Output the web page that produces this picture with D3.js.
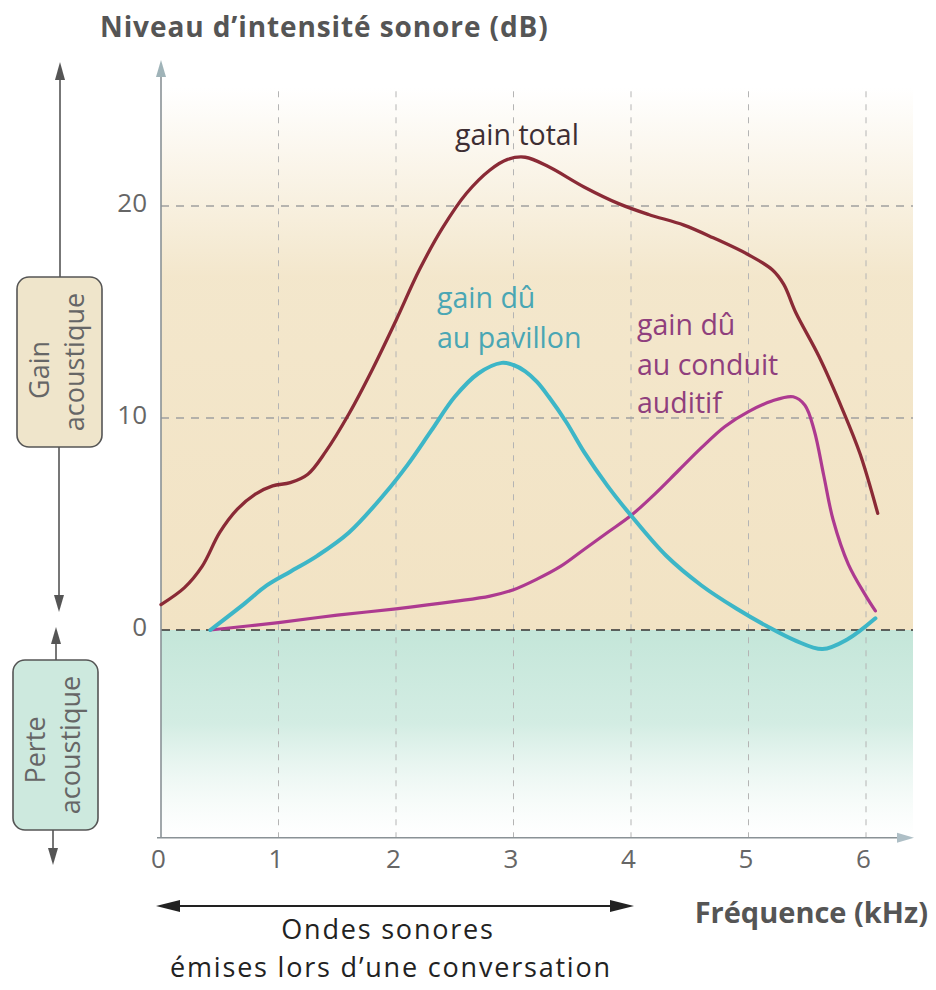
<!DOCTYPE html>
<html><head><meta charset="utf-8">
<script src="https://cdn.jsdelivr.net/npm/d3@7"></script>
<style>body{margin:0;background:#fff}svg{display:block}text{font-family:"Open Sans","Noto Sans",sans-serif}</style>
</head><body>
<script>
// ---- data (frequency in kHz, level in dB) ----
const xTicks = [0,1,2,3,4,5,6];
const yTicks = [0,10,20];
const totalF  = [0,0.2,0.35,0.5,0.65,0.8,0.95,1.1,1.25,1.4,1.6,1.8,2.0,2.2,2.4,2.6,2.8,2.95,3.1,3.3,3.6,3.9,4.15,4.45,4.7,5.0,5.2,5.3,5.4,5.6,5.8,5.95,6.1];
const totalDb = [1.2,2.0,3.0,4.6,5.7,6.4,6.8,6.95,7.35,8.4,10.2,12.3,14.6,17.0,19.0,20.6,21.7,22.2,22.3,21.85,20.9,20.1,19.6,19.1,18.5,17.7,17.0,16.3,15.0,12.9,10.4,8.3,5.5];
const pavF  = [0.42,0.7,0.9,1.1,1.33,1.6,1.9,2.1,2.3,2.5,2.7,2.9,3.0,3.1,3.2,3.3,3.45,3.6,3.8,4.0,4.3,4.6,4.9,5.15,5.4,5.63,5.84,6.08];
const pavDb = [0,1.2,2.1,2.75,3.5,4.6,6.4,7.8,9.4,11.0,12.1,12.6,12.5,12.2,11.7,11.0,9.8,8.4,6.8,5.4,3.5,2.1,1.0,0.2,-0.5,-0.9,-0.45,0.55];
const condF  = [0.42,1.0,1.5,2.0,2.5,2.8,3.0,3.2,3.4,3.6,3.8,4.0,4.2,4.4,4.6,4.8,5.0,5.2,5.38,5.48,5.56,5.64,5.72,5.85,6.0,6.08];
const condDb = [0,0.35,0.7,1.0,1.35,1.6,1.9,2.4,3.0,3.8,4.6,5.4,6.4,7.5,8.6,9.6,10.3,10.8,11.0,10.6,9.4,7.3,5.2,3.1,1.6,0.9];

const W=936,H=990;
const svg=d3.select("body").append("svg").attr("width",W).attr("height",H);
const x=d3.scaleLinear().domain([0,6]).range([161,866]);
const y=d3.scaleLinear().domain([0,20]).range([630,206]);
const yBot=y(-9.8), yTop=y(25.6), xEnd=x(6.4);

const defs=svg.append("defs");
const gb=defs.append("linearGradient").attr("id","gb").attr("x1",0).attr("y1",0).attr("x2",0).attr("y2",1);
gb.append("stop").attr("offset","0").attr("stop-color","#f2e4c6").attr("stop-opacity",0);
gb.append("stop").attr("offset","0.35").attr("stop-color","#f2e4c6").attr("stop-opacity",0.9);
gb.append("stop").attr("offset","1").attr("stop-color","#f2e3c4").attr("stop-opacity",1);
const gm=defs.append("linearGradient").attr("id","gm").attr("x1",0).attr("y1",0).attr("x2",0).attr("y2",1);
gm.append("stop").attr("offset","0").attr("stop-color","#c4e6d9").attr("stop-opacity",1);
gm.append("stop").attr("offset","0.45").attr("stop-color","#c8e8dc").attr("stop-opacity",0.8);
gm.append("stop").attr("offset","1").attr("stop-color","#e6f4ee").attr("stop-opacity",0);

svg.append("rect").attr("x",x(0)).attr("y",yTop).attr("width",xEnd-x(0)).attr("height",y(0)-yTop).attr("fill","url(#gb)");
svg.append("rect").attr("x",x(0)).attr("y",y(0)).attr("width",xEnd-x(0)).attr("height",yBot-y(0)).attr("fill","url(#gm)");

// grid
svg.append("g").selectAll("line").data(xTicks.slice(1)).join("line")
  .attr("x1",d=>x(d)).attr("x2",d=>x(d)).attr("y1",yTop+4).attr("y2",yBot)
  .attr("stroke","#b4b4b4").attr("stroke-width",1).attr("stroke-dasharray","6,7");
svg.append("g").selectAll("line").data([10,20]).join("line")
  .attr("x1",x(0)).attr("x2",xEnd).attr("y1",d=>y(d)).attr("y2",d=>y(d))
  .attr("stroke","#a0a0a0").attr("stroke-width",1.3).attr("stroke-dasharray","8,7");
svg.append("line").attr("x1",x(0)).attr("x2",xEnd).attr("y1",y(0)).attr("y2",y(0))
  .attr("stroke","#333").attr("stroke-width",1.6).attr("stroke-dasharray","9,6");

// axes
svg.append("line").attr("x1",x(0)).attr("x2",x(0)).attr("y1",yBot).attr("y2",70).attr("stroke","#8a9296").attr("stroke-width",1.6);
svg.append("path").attr("d",`M${x(0)},60 L${x(0)-5},77 L${x(0)+5},77 Z`).attr("fill","#9fb3b8");
svg.append("line").attr("x1",x(0)-4).attr("x2",900).attr("y1",yBot).attr("y2",yBot).attr("stroke","#8a9296").attr("stroke-width",1.6);
svg.append("path").attr("d",`M914,${yBot} L897,${yBot-5} L897,${yBot+5} Z`).attr("fill","#aebfc6");

const gx=svg.append("g").attr("transform",`translate(0,${yBot})`)
  .call(d3.axisBottom(x).tickValues(xTicks).tickSize(0).tickPadding(12).tickFormat(d3.format("d")));
gx.select(".domain").remove();
gx.selectAll("text").attr("font-size",26).attr("fill","#666").attr("font-family","'Open Sans',sans-serif").attr("dx",-3);
const gy=svg.append("g").attr("transform",`translate(${x(0)},0)`)
  .call(d3.axisLeft(y).tickValues(yTicks).tickSize(0).tickPadding(14).tickFormat(d3.format("d")));
gy.select(".domain").remove();
gy.selectAll("text").attr("font-size",26).attr("fill","#666").attr("font-family","'Open Sans',sans-serif").attr("dy","0.2em");

// curves
const line=d3.line().x(d=>x(d[0])).y(d=>y(d[1])).curve(d3.curveCatmullRom.alpha(0.5));
const zip=(a,b)=>a.map((v,i)=>[v,b[i]]);
svg.append("path").attr("d",line(zip(condF,condDb))).attr("fill","none").attr("stroke","#ad3a90").attr("stroke-width",3.2).attr("stroke-linecap","round");
svg.append("path").attr("d",line(zip(pavF,pavDb))).attr("fill","none").attr("stroke","#3db6c7").attr("stroke-width",4).attr("stroke-linecap","round");
svg.append("path").attr("d",line(zip(totalF,totalDb))).attr("fill","none").attr("stroke","#8a2a36").attr("stroke-width",3.3).attr("stroke-linecap","round");

// curve labels
const lab=(t,xx,yy,c)=>svg.append("text").attr("x",xx).attr("y",yy).attr("font-size",28.5).attr("fill",c).text(t);
lab("gain total",455,145,"#3e2e33");
lab("gain dû",437,308,"#4aa6b4");
lab("au pavillon",437,348,"#4aa6b4");
lab("gain dû",637,335,"#8f3f7d");
lab("au conduit",637,375,"#8f3f7d");
lab("auditif",637,413,"#8f3f7d");

// titles
svg.append("text").attr("x",100).attr("y",37).attr("font-size",28).attr("letter-spacing",0.9).attr("font-weight","bold").attr("fill","#555").text("Niveau d’intensité sonore (dB)");
svg.append("text").attr("x",928).attr("y",923).attr("text-anchor","end").attr("font-size",29).attr("font-weight","bold").attr("fill","#555").text("Fréquence (kHz)");
svg.append("text").attr("x",388).attr("y",939).attr("text-anchor","middle").attr("font-size",27).attr("letter-spacing",1.8).attr("fill","#222").text("Ondes sonores");
svg.append("text").attr("x",391).attr("y",977).attr("text-anchor","middle").attr("font-size",27).attr("letter-spacing",1.8).attr("fill","#222").text("émises lors d’une conversation");

// bottom double arrow
svg.append("line").attr("x1",170).attr("x2",620).attr("y1",906).attr("y2",906).attr("stroke","#222").attr("stroke-width",2);
svg.append("path").attr("d","M156,906 L180,900 L180,912 Z").attr("fill","#222");
svg.append("path").attr("d","M634,906 L610,900 L610,912 Z").attr("fill","#222");

// left side boxes and arrows
const ac="#555";
svg.append("line").attr("x1",60).attr("x2",60).attr("y1",72).attr("y2",277).attr("stroke",ac).attr("stroke-width",1.6);
svg.append("path").attr("d","M60,62 L55,80 L65,80 Z").attr("fill",ac);
svg.append("line").attr("x1",59).attr("x2",59).attr("y1",447).attr("y2",600).attr("stroke",ac).attr("stroke-width",1.6);
svg.append("path").attr("d","M59,612 L54,595 L64,595 Z").attr("fill",ac);
svg.append("line").attr("x1",56).attr("x2",56).attr("y1",640).attr("y2",660).attr("stroke",ac).attr("stroke-width",1.6);
svg.append("path").attr("d","M56,627 L51,644 L61,644 Z").attr("fill",ac);
svg.append("line").attr("x1",53).attr("x2",53).attr("y1",830).attr("y2",852).attr("stroke",ac).attr("stroke-width",1.6);
svg.append("path").attr("d","M53,865 L48,848 L58,848 Z").attr("fill",ac);

svg.append("rect").attr("x",17).attr("y",277).attr("width",85).attr("height",170).attr("rx",12).attr("fill","#efe5cb").attr("stroke","#555").attr("stroke-width",1.6);
svg.append("rect").attr("x",13).attr("y",660).attr("width",85).attr("height",170).attr("rx",12).attr("fill","#cde9de").attr("stroke","#555").attr("stroke-width",1.6);
const vt=(t,cx,cy)=>svg.append("text").attr("transform",`translate(${cx},${cy}) rotate(-90)`).attr("text-anchor","middle").attr("dy","0.35em").attr("font-size",27).attr("fill","#666").text(t);
vt("Gain",40,370); vt("acoustique",75,362);
vt("Perte",36,750); vt("acoustique",71,745);
</script>
</body></html>
